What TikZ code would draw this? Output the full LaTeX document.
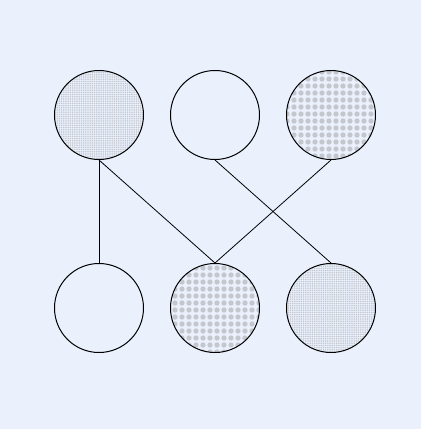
\documentclass[tikz,border=0pt]{standalone}
\usepackage{tikz}
\usetikzlibrary{patterns.meta}
\definecolor{sfondo}{RGB}{234,241,253}
\definecolor{puntini}{RGB}{196,199,206}
\begin{document}
\begin{tikzpicture}[x=1pt, y=-1pt, thick]
				\def\R{89pt}
				\tikzset{
					cerchio/.style={circle, draw, line width=1pt, minimum size=\R, inner sep=0pt},
					fitto/.style={cerchio, pattern={Dots[distance=2.2pt, radius=0.85pt]}, pattern color=puntini},
					largo/.style={cerchio, pattern={Dots[distance=7pt, radius=2.7pt]}, pattern color=puntini},
					filo/.style={line width=0.8pt}
				}
				\fill[sfondo] (0,0) rectangle (421,429);
				\useasboundingbox (0,0) rectangle (421,429);
				
				\node[fitto] (a1) at (99,115) {};
				\node[cerchio] (a2) at (215,115) {};
				\node[largo] (a3) at (331,115) {};
				
				\node[cerchio] (b1) at (99,308) {};
				\node[largo] (b2) at (215,308) {};
				\node[fitto] (b3) at (331,308) {};
				
				\draw[filo] (a1.south) -- (b1.north);
				\draw[filo] (a1.south) -- (b2.north);
				\draw[filo] (a2.south) -- (b3.north);
				\draw[filo] (a3.south) -- (b2.north);
\end{tikzpicture}
\end{document}
